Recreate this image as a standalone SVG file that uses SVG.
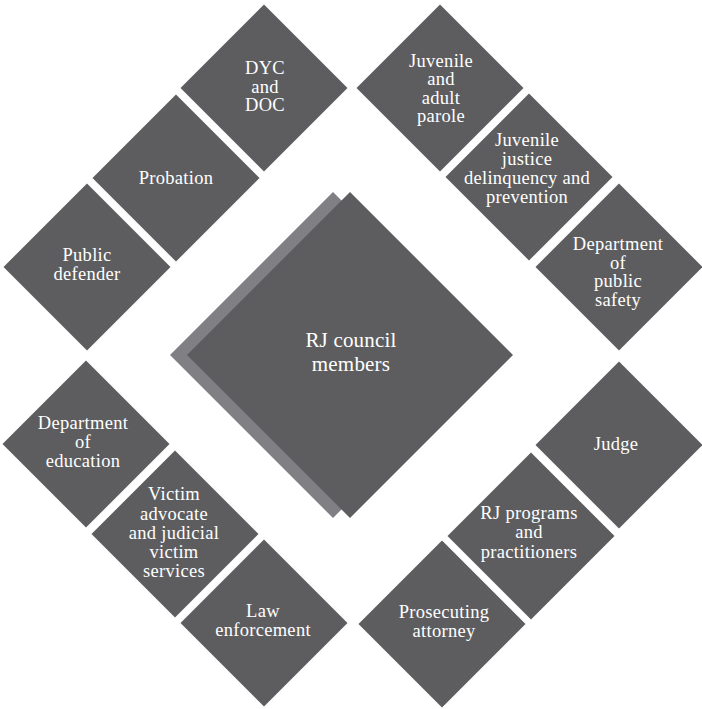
<svg xmlns="http://www.w3.org/2000/svg" width="702" height="709" viewBox="0 0 702 709">
<style>
.d{fill:#5d5d60}
.s{fill:#808084}
.t{font-family:"Liberation Serif","Times New Roman",serif;font-size:18.5px;letter-spacing:0.3px;fill:#ffffff;text-anchor:middle}
.c{font-size:21px;letter-spacing:0.2px}
</style>
<defs>
<polygon id="dm" points="0,-83.5 83.5,0 0,83.5 -83.5,0"/>
</defs>
<rect width="702" height="709" fill="#ffffff"/>
<g id="center">
<polygon class="s" points="333,192 496,355 333,518 170,355"/>
<polygon class="d" points="350,192 513,355 350,518 187,355"/>
<text class="t c" x="351"><tspan x="351" y="346.5">RJ council</tspan><tspan x="351" y="371">members</tspan></text>
</g>
<g id="dyc" transform="translate(264,88)">
<use href="#dm" class="d"/>
<text class="t"><tspan x="1" y="-14">DYC</tspan><tspan x="1" y="4.5">and</tspan><tspan x="1" y="23">DOC</tspan></text>
</g>
<g id="probation" transform="translate(176,178)">
<use href="#dm" class="d"/>
<text class="t"><tspan x="0" y="6">Probation</tspan></text>
</g>
<g id="public-defender" transform="translate(87,267)">
<use href="#dm" class="d"/>
<text class="t"><tspan x="0" y="-6">Public</tspan><tspan x="0" y="13">defender</tspan></text>
</g>
<g id="parole" transform="translate(440,88)">
<use href="#dm" class="d"/>
<text class="t"><tspan x="1" y="-21.5">Juvenile</tspan><tspan x="1" y="-3">and</tspan><tspan x="1" y="15.5">adult</tspan><tspan x="1" y="34">parole</tspan></text>
</g>
<g id="juvenile-justice" transform="translate(529,177)">
<use href="#dm" class="d"/>
<text class="t"><tspan x="-2" y="-31">Juvenile</tspan><tspan x="-2" y="-12">justice</tspan><tspan x="-2" y="7">delinquency and</tspan><tspan x="-2" y="26">prevention</tspan></text>
</g>
<g id="public-safety" transform="translate(619,267)">
<use href="#dm" class="d"/>
<text class="t"><tspan x="-1" y="-17">Department</tspan><tspan x="-1" y="1.5">of</tspan><tspan x="-1" y="20">public</tspan><tspan x="-1" y="38.5">safety</tspan></text>
</g>
<g id="education" transform="translate(86,444)">
<use href="#dm" class="d"/>
<text class="t"><tspan x="-3" y="-15">Department</tspan><tspan x="-3" y="4">of</tspan><tspan x="-3" y="23">education</tspan></text>
</g>
<g id="victim" transform="translate(175,534)">
<use href="#dm" class="d"/>
<text class="t"><tspan x="-1" y="-34">Victim</tspan><tspan x="-1" y="-14.5">advocate</tspan><tspan x="-1" y="5">and judicial</tspan><tspan x="-1" y="24">victim</tspan><tspan x="-1" y="43">services</tspan></text>
</g>
<g id="law" transform="translate(264,623)">
<use href="#dm" class="d"/>
<text class="t"><tspan x="-1" y="-6">Law</tspan><tspan x="-1" y="13">enforcement</tspan></text>
</g>
<g id="judge" transform="translate(619,445)">
<use href="#dm" class="d"/>
<text class="t"><tspan x="-3" y="5">Judge</tspan></text>
</g>
<g id="rj-programs" transform="translate(531,536)">
<use href="#dm" class="d"/>
<text class="t"><tspan x="-2" y="-17">RJ programs</tspan><tspan x="-2" y="2">and</tspan><tspan x="-2" y="22">practitioners</tspan></text>
</g>
<g id="prosecuting" transform="translate(442,624)">
<use href="#dm" class="d"/>
<text class="t"><tspan x="2" y="-6">Prosecuting</tspan><tspan x="2" y="13">attorney</tspan></text>
</g>
</svg>
